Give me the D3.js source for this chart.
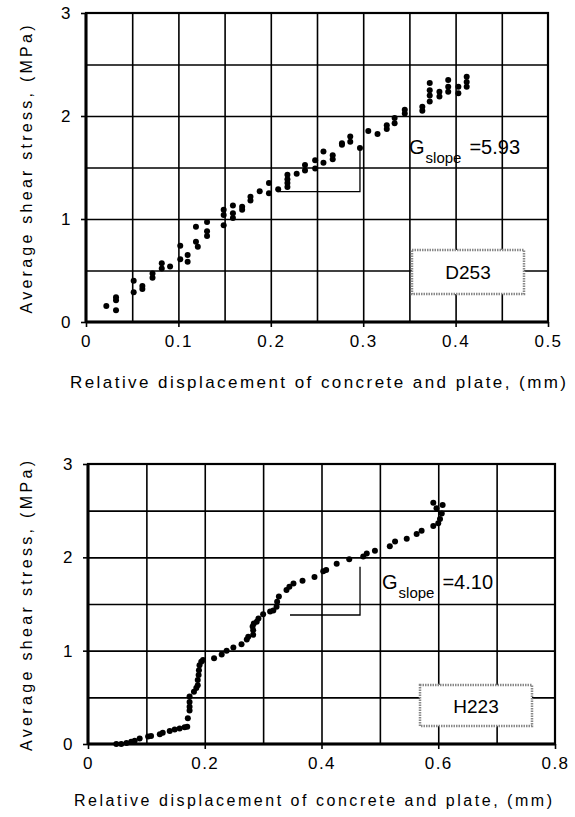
<!DOCTYPE html>
<meta charset="utf-8">
<style>
body { margin: 0; background: #fff; }
svg { font-family: "Liberation Sans", Arial, sans-serif; }
.grid line { stroke: #000; stroke-width: 1.6px; }
.grid path { display: none; }
.axis path { display: none; }
.axis line { stroke: #000; stroke-width: 1.6px; }
.axis text { font-size: 17px; fill: #000; letter-spacing: 1.5px; }
</style>
<svg width="575" height="817"></svg>
<script src="https://d3js.org/d3.v7.min.js"></script>
<script>

// D253 : relative displacement (mm) / average shear stress (MPa)
var d253Disp = [0.022,0.0325,0.0325,0.0325,0.0516,0.0516,0.061,0.061,0.072,0.072,0.082,0.082,0.091,
  0.102,0.102,0.110,0.110,0.119,0.119,0.121,0.131,0.131,0.131,0.149,0.149,0.149,0.159,0.159,0.159,
  0.169,0.169,0.178,0.178,0.188,0.198,0.198,0.208,0.218,0.218,0.218,0.218,0.228,0.237,0.237,0.248,0.248,
  0.257,0.257,0.267,0.267,0.277,0.277,0.286,0.286,0.2965,0.3055,0.3155,0.3255,0.3255,0.334,0.334,
  0.345,0.345,0.364,0.364,0.372,0.372,0.372,0.372,0.3825,0.3825,0.392,0.392,0.392,0.403,0.403,
  0.412,0.412,0.412];
var d253Stress = [0.155,0.24,0.21,0.115,0.40,0.29,0.35,0.32,0.47,0.43,0.57,0.52,0.54,
  0.74,0.61,0.65,0.585,0.925,0.78,0.73,0.97,0.88,0.835,1.09,1.04,0.94,1.13,1.055,1.01,
  1.12,1.09,1.215,1.18,1.27,1.35,1.25,1.29,1.43,1.385,1.35,1.31,1.44,1.525,1.47,1.57,1.49,
  1.655,1.545,1.62,1.58,1.735,1.72,1.80,1.75,1.69,1.855,1.825,1.91,1.875,1.98,1.93,
  2.06,2.025,2.09,2.05,2.32,2.25,2.20,2.14,2.235,2.19,2.35,2.285,2.235,2.285,2.22,
  2.38,2.33,2.285];

// H223
var h223Disp = [0.0485,0.057,0.066,0.074,0.080,0.0885,0.103,0.108,0.123,0.128,0.140,0.1485,0.157,
  0.1655,0.170,0.171,0.174,0.174,0.174,0.174,0.1815,0.1855,0.188,0.188,0.1895,0.190,0.191,0.194,
  0.197,0.216,0.229,0.2375,0.249,0.263,0.272,0.2745,0.283,0.283,0.282,0.284,0.289,0.292,0.300,
  0.312,0.3175,0.323,0.324,0.327,0.340,0.345,0.352,0.3675,0.388,0.403,0.408,0.426,0.4475,0.4715,
  0.4775,0.4915,0.517,0.526,0.546,0.563,0.5715,0.5915,0.600,0.603,0.606,0.6075,0.5915,0.597];
var h223Stress = [0.00,0.00,0.01,0.025,0.035,0.06,0.08,0.085,0.105,0.12,0.14,0.155,0.165,
  0.18,0.185,0.275,0.36,0.40,0.45,0.51,0.56,0.60,0.63,0.685,0.74,0.79,0.845,0.88,
  0.90,0.92,0.96,1.00,1.035,1.07,1.12,1.15,1.17,1.22,1.26,1.29,1.31,1.345,1.39,
  1.42,1.43,1.47,1.525,1.58,1.65,1.685,1.72,1.75,1.79,1.85,1.865,1.93,1.98,2.01,
  2.04,2.07,2.12,2.17,2.20,2.25,2.285,2.335,2.365,2.41,2.47,2.56,2.585,2.525];

var yTicks = [0, 1, 2, 3];
var yGrid = [0.5, 1, 1.5, 2, 2.5];
var d253XTicks = [0, 0.1, 0.2, 0.3, 0.4, 0.5];
var d253XGrid = [0.05, 0.1, 0.15, 0.2, 0.25, 0.3, 0.35, 0.4, 0.45];
var h223XTicks = [0, 0.2, 0.4, 0.6, 0.8];
var h223XGrid = [0.1, 0.2, 0.3, 0.4, 0.5, 0.6, 0.7];

// slope triangles [x0, x1, yLow, yHigh]
var d253Slope = [0.207, 0.2965, 1.265, 1.70];
var h223Slope = [0.346, 0.466, 1.382, 1.90];

var svg = d3.select("svg");
var fmtX = function(d) { return d === 0 ? "0" : d3.format(".1f")(d); };
var fmtY = d3.format("d");

function panel(o) {
  var x = d3.scaleLinear().domain([0, o.xMax]).range([o.left, o.right]);
  var y = d3.scaleLinear().domain([0, 3]).range([o.bottom, o.top]);
  var g = svg.append("g");
  var h = o.bottom - o.top, w = o.right - o.left;

  g.append("g").attr("class", "grid")
      .attr("transform", "translate(0," + o.bottom + ")")
      .call(d3.axisBottom(x).tickValues(o.xGrid).tickSize(-h).tickFormat(""));
  g.append("g").attr("class", "grid")
      .attr("transform", "translate(" + o.left + ",0)")
      .call(d3.axisLeft(y).tickValues(yGrid).tickSize(-w).tickFormat(""));

  g.append("rect")
      .attr("x", o.left).attr("y", o.top).attr("width", w).attr("height", h)
      .attr("fill", "none").attr("stroke", "#000").attr("stroke-width", 2.2);
  g.append("line").attr("x1", o.left).attr("x2", o.left).attr("y1", o.top).attr("y2", o.bottom)
      .attr("stroke", "#000").attr("stroke-width", 3);
  g.append("line").attr("x1", o.left).attr("x2", o.right).attr("y1", o.bottom).attr("y2", o.bottom)
      .attr("stroke", "#000").attr("stroke-width", 3);

  g.append("g").attr("class", "axis")
      .attr("transform", "translate(0," + o.bottom + ")")
      .call(d3.axisBottom(x).tickValues(o.xTicks).tickSize(5).tickPadding(8).tickFormat(fmtX));
  g.append("g").attr("class", "axis")
      .attr("transform", "translate(" + o.left + ",0)")
      .call(d3.axisLeft(y).tickValues(yTicks).tickSize(5).tickPadding(9).tickFormat(fmtY));

  // slope triangle
  var s = o.slope;
  g.append("path")
      .attr("d", "M" + x(s[0]) + "," + y(s[2]) + "H" + x(s[1]) + "V" + y(s[3]))
      .attr("fill", "none").attr("stroke", "#000").attr("stroke-width", 1.3);

  g.append("g").selectAll("circle")
    .data(d3.range(o.xs.length))
    .enter().append("circle")
      .attr("cx", function(i) { return x(o.xs[i]); })
      .attr("cy", function(i) { return y(o.ys[i]); })
      .attr("r", 3)
      .attr("fill", "#000");

  // G_slope label
  var t = g.append("text").attr("x", o.gx).attr("y", o.gy).attr("font-size", 20);
  t.append("tspan").text("G");
  t.append("tspan").attr("font-size", 15).attr("dy", 9).attr("dx", 1).text("slope");
  t.append("tspan").attr("dy", -9).attr("dx", 8).text(o.gText);

  // specimen box
  var b = o.box;
  g.append("rect").attr("x", b[0]).attr("y", b[1]).attr("width", b[2]).attr("height", b[3])
      .attr("fill", "#fff").attr("stroke", "#888").attr("stroke-width", 2.5)
      .attr("stroke-dasharray", "1.5,1");
  g.append("text").attr("x", b[0] + b[2] / 2).attr("y", b[1] + b[3] / 2 + 7)
      .attr("text-anchor", "middle").attr("font-size", 19).text(o.name);

  // axis titles
  g.append("text")
      .attr("transform", "translate(" + o.yTitleX + "," + ((o.top + o.bottom) / 2 + 2) + ")rotate(-90)")
      .attr("text-anchor", "middle").attr("font-size", 16)
      .attr("textLength", o.yTitleLen).attr("lengthAdjust", "spacing")
      .text("Average shear stress, (MPa)");
  g.append("text")
      .attr("x", o.xTitleX).attr("y", o.xTitleY)
      .attr("text-anchor", "middle").attr("font-size", o.xTitleSize)
      .attr("textLength", o.xTitleLen).attr("lengthAdjust", "spacing")
      .text("Relative displacement of concrete and plate, (mm)");
}

panel({
  left: 86, right: 548, top: 13, bottom: 322, xMax: 0.5,
  xTicks: d253XTicks, xGrid: d253XGrid, xs: d253Disp, ys: d253Stress,
  slope: d253Slope, gx: 409, gy: 154, gText: "=5.93",
  box: [412, 250, 112, 44], name: "D253",
  yTitleX: 32, yTitleLen: 288,
  xTitleX: 318, xTitleY: 388, xTitleSize: 17, xTitleLen: 496
});

panel({
  left: 88, right: 555, top: 464, bottom: 744, xMax: 0.8,
  xTicks: h223XTicks, xGrid: h223XGrid, xs: h223Disp, ys: h223Stress,
  slope: h223Slope, gx: 382, gy: 589, gText: "=4.10",
  box: [420, 685, 112, 41], name: "H223",
  yTitleX: 32, yTitleLen: 290,
  xTitleX: 313, xTitleY: 806, xTitleSize: 16, xTitleLen: 478
});

</script>
